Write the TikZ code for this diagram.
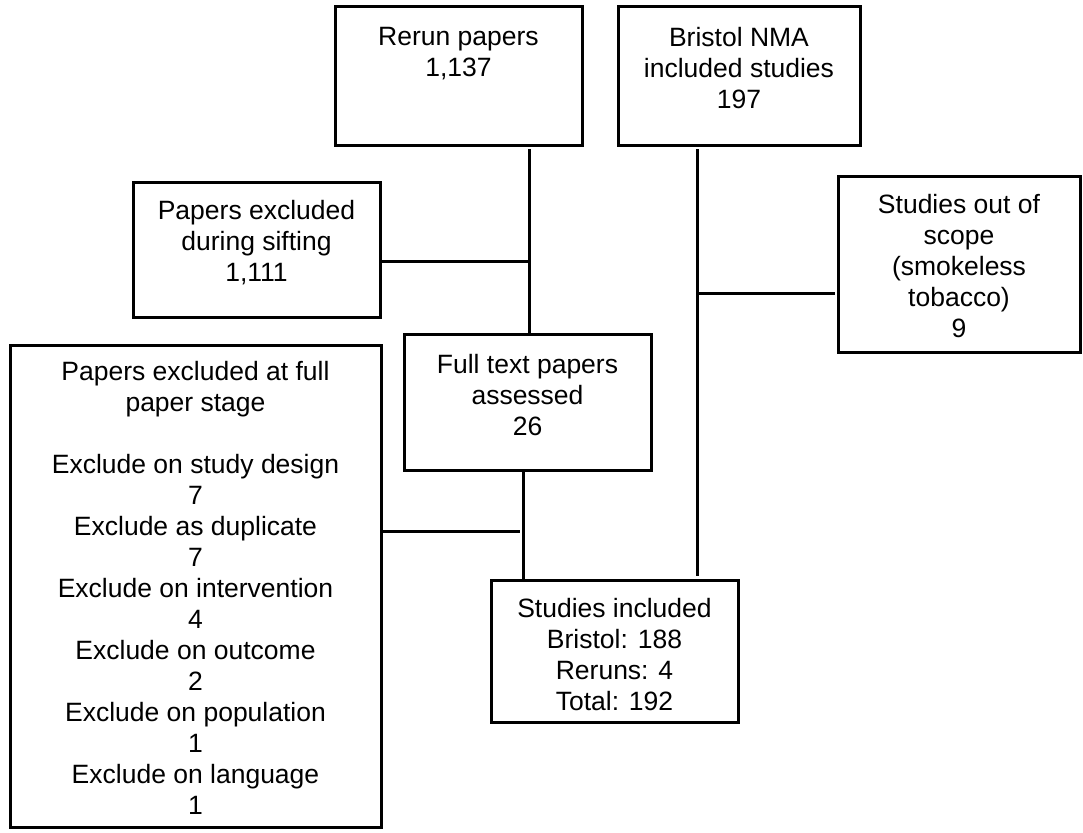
\documentclass[tikz,border=0pt]{standalone}
\usepackage{fontspec}
\setmainfont{Liberation Sans}
\begin{document}
\begin{tikzpicture}[x=1pt,y=-1pt,
  box/.style={draw=black, line width=3pt, inner sep=0pt, outer sep=0pt, anchor=north west},
  txt/.style={anchor=north, align=center, inner sep=0pt, font=\fontsize{26.5}{31}\selectfont},
  link/.style={line width=3pt}]
\useasboundingbox[fill=white] (0,0) rectangle (1083,832);
% boxes
\node[box, minimum width=247pt, minimum height=138pt] (rerun) at (335,7) {};
\node[box, minimum width=242pt, minimum height=138pt] (bristol) at (618,7) {};
\node[box, minimum width=247pt, minimum height=135pt] (sift) at (133,182) {};
\node[box, minimum width=242pt, minimum height=176pt] (out) at (838,176) {};
\node[box, minimum width=247pt, minimum height=136pt] (full) at (404,334) {};
\node[box, minimum width=371pt, minimum height=482pt] (excl) at (10,345) {};
\node[box, minimum width=247pt, minimum height=142pt] (incl) at (491,580) {};
% texts
\node[txt] (rerunT) at ([yshift=-20pt]rerun.north) {Rerun papers\\1,137};
\node[txt] (bristolT) at ([yshift=-20pt]bristol.north) {Bristol NMA\\included studies\\197};
\node[txt] (siftT) at ([yshift=-18pt]sift.north) {Papers excluded\\during sifting\\1,111};
\node[txt, anchor=center] (outT) at ([yshift=-2pt]out.center) {Studies out of\\scope\\(smokeless\\tobacco)\\9};
\node[txt] (fullT) at ([yshift=-20pt]full.north) {Full text papers\\assessed\\26};
\node[txt] (exclT) at ([yshift=-16pt]excl.north) {Papers excluded at full\\paper stage\\[31pt]Exclude on study design\\7\\Exclude as duplicate\\7\\Exclude on intervention\\4\\Exclude on outcome\\2\\Exclude on population\\1\\Exclude on language\\1};
\node[txt] (inclT) at ([yshift=-18pt]incl.north) {Studies included\\Bristol: 188\\Reruns: 4\\Total: 192};
% junction coordinates
\coordinate (rx) at (529,145);
\coordinate (bx) at (697,145);
\coordinate (fx) at (523,470);
\coordinate (j1) at (529,261);
\coordinate (j2) at (697,293);
\coordinate (j3) at (523,531);
% connectors
\draw[link, shorten <=4pt] (rerun.south -| rx) -- (full.north -| rx);
\draw[link] (sift.east |- j1) -- (j1);
\draw[link, shorten <=4pt, shorten >=4pt] (bristol.south -| bx) -- (incl.north -| bx);
\draw[link, shorten >=3pt] (j2) -- (out.west |- j2);
\draw[link] (full.south -| fx) -- (incl.north -| fx);
\draw[link, shorten >=3pt] (excl.east |- j3) -- (j3);
\end{tikzpicture}
\end{document}
